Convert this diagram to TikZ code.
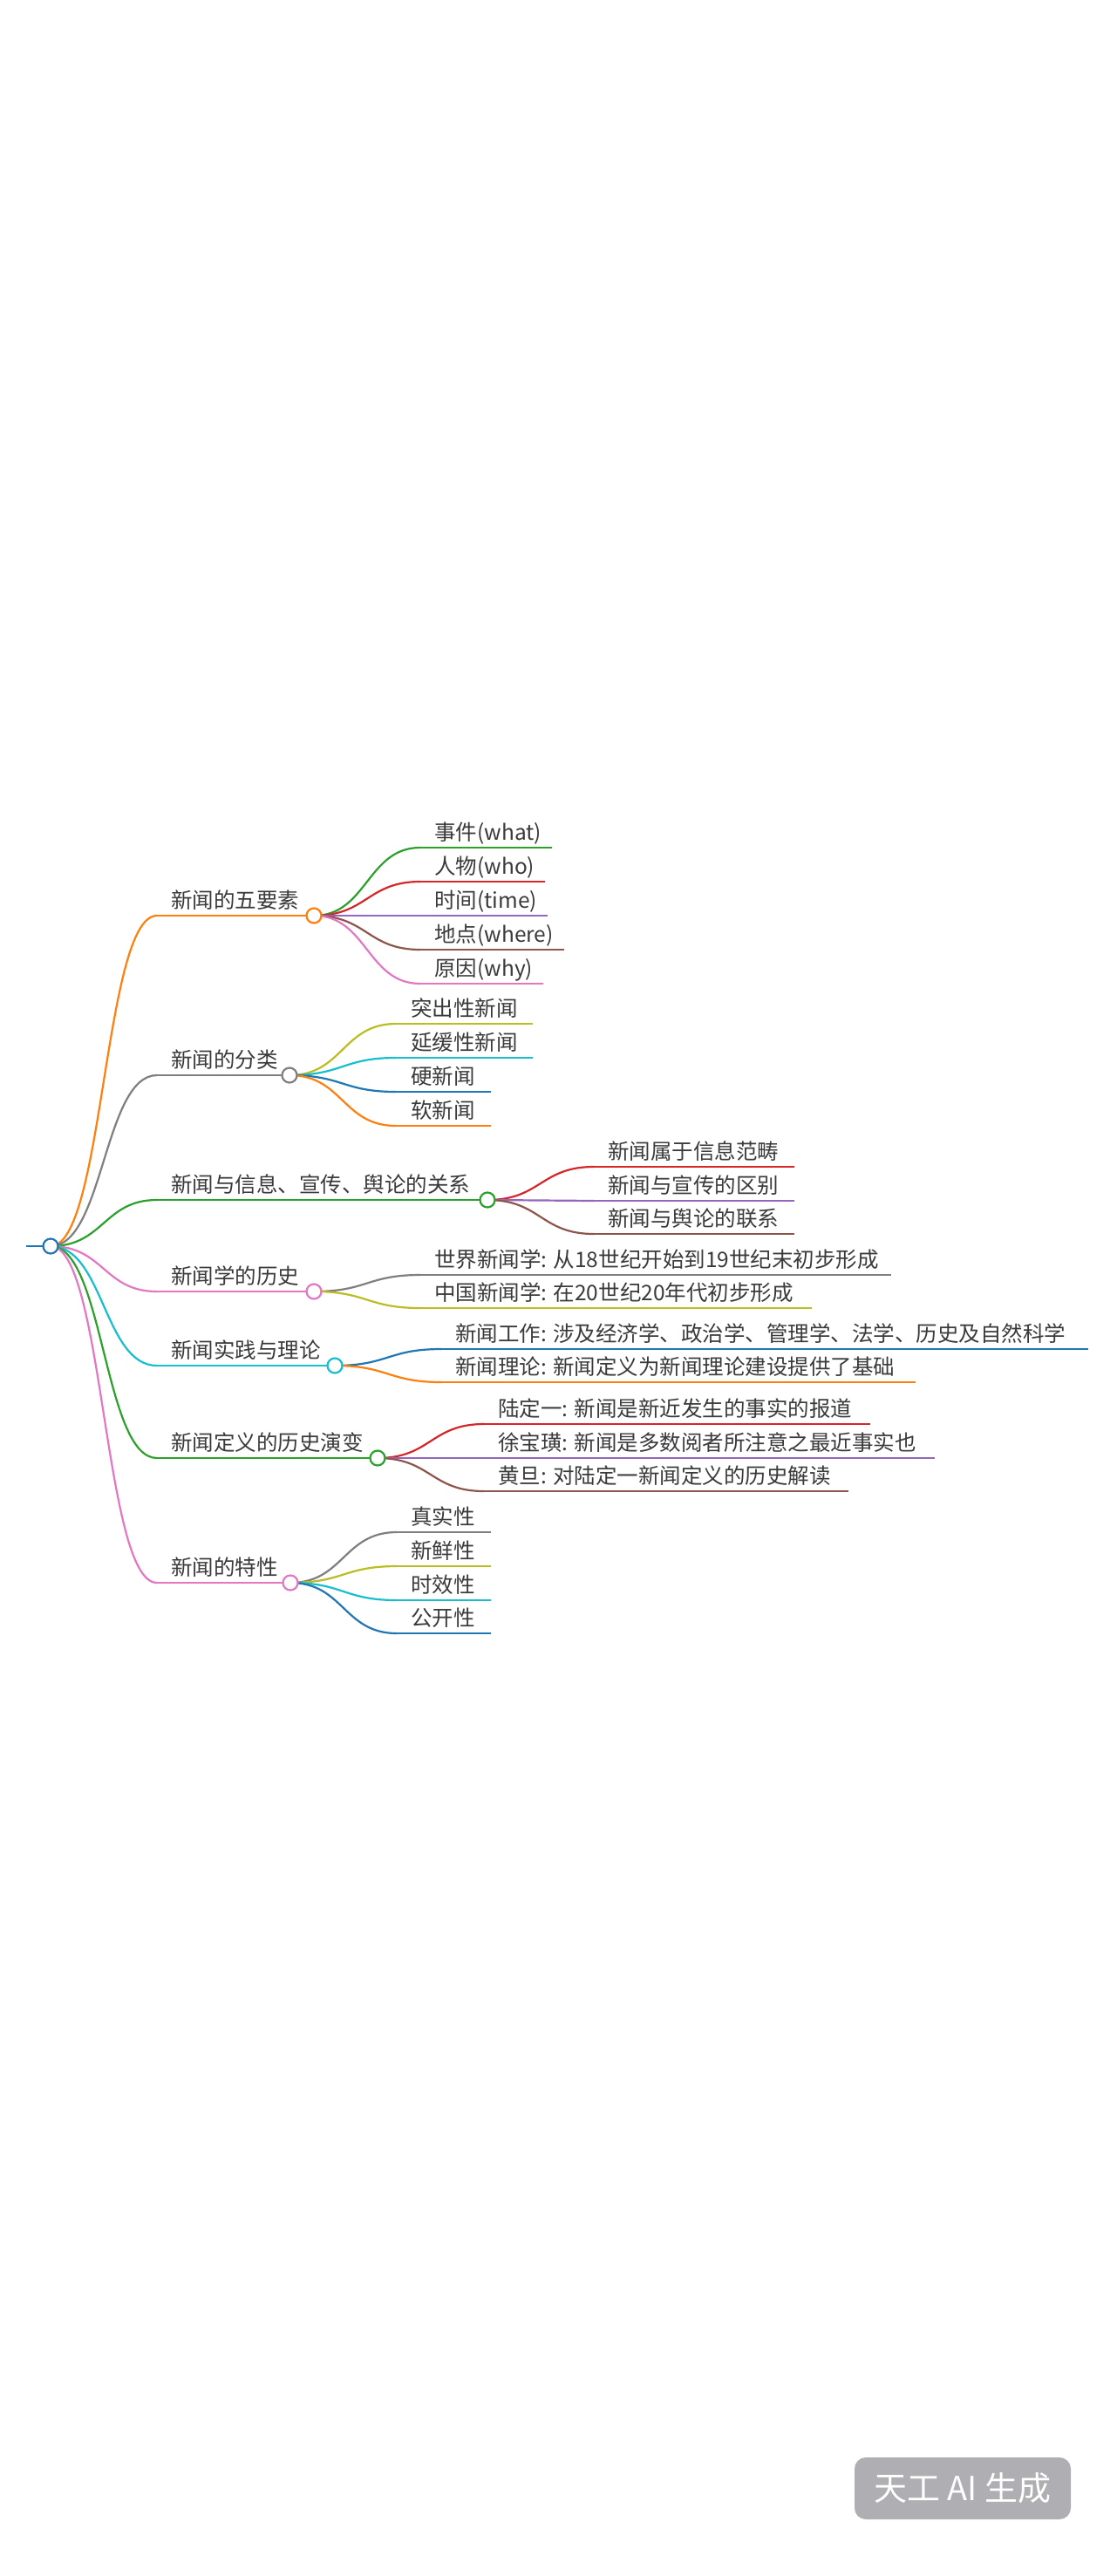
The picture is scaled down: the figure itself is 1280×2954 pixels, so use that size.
\documentclass[tikz,border=0pt]{standalone}
\usepackage{fontspec}
\setmainfont{Noto Sans CJK SC}
\usetikzlibrary{calc}
\definecolor{cblue}{HTML}{1F77B4}
\definecolor{corange}{HTML}{FF7F0E}
\definecolor{cgreen}{HTML}{2CA02C}
\definecolor{cred}{HTML}{D62728}
\definecolor{cpurple}{HTML}{9467BD}
\definecolor{cbrown}{HTML}{8C564B}
\definecolor{cpink}{HTML}{E377C2}
\definecolor{cgray}{HTML}{7F7F7F}
\definecolor{colive}{HTML}{BCBD22}
\definecolor{ccyan}{HTML}{17BECF}
\definecolor{txt}{HTML}{3A3A3A}
\definecolor{wm}{HTML}{AEAEB3}
\begin{document}
\begin{tikzpicture}[x=1pt,y=-1pt,
  link/.style={line width=2.2pt, to path={let \p1=(\tikztostart), \p2=(\tikztotarget) in .. controls ({0.5*\x1+0.5*\x2},\y1) and ({0.5*\x1+0.5*\x2},\y2) .. (\tikztotarget)}},
  uline/.style={line width=2.2pt},
  dot/.style={circle, draw=#1, fill=white, line width=2.2pt, minimum size=17pt, inner sep=0pt},
  lbl/.style={anchor=base west, inner sep=0pt, text=txt, font=\fontsize{24.5}{28}\selectfont},
]
\useasboundingbox (0,0) rectangle (1280,2954);
\fill[white] (0,0) rectangle (1280,2954);

% ---------- coordinates ----------
\coordinate (r0) at (30,1429);
\coordinate (r) at (58,1429);
% level 1 starts and circle centres
\coordinate (as) at (180,1050); \coordinate (ac) at (360,1050);
\coordinate (bs) at (180,1233); \coordinate (bc) at (332,1233);
\coordinate (cs) at (180,1376); \coordinate (cc) at (559,1376);
\coordinate (ds) at (180,1481); \coordinate (dc) at (360,1481);
\coordinate (es) at (180,1566); \coordinate (ec) at (384,1566);
\coordinate (fs) at (180,1672); \coordinate (fc) at (433,1672);
\coordinate (gs) at (180,1815); \coordinate (gc) at (333,1815);
% level 2
\coordinate (a1s) at (482,972);  \coordinate (a1e) at (633,972);
\coordinate (a2s) at (482,1011); \coordinate (a2e) at (625,1011);
\coordinate (a3s) at (482,1050); \coordinate (a3e) at (628,1050);
\coordinate (a4s) at (482,1089); \coordinate (a4e) at (647,1089);
\coordinate (a5s) at (482,1128); \coordinate (a5e) at (623,1128);
\coordinate (b1s) at (454,1174); \coordinate (b1e) at (611,1174);
\coordinate (b2s) at (454,1213); \coordinate (b2e) at (611,1213);
\coordinate (b3s) at (454,1252); \coordinate (b3e) at (563,1252);
\coordinate (b4s) at (454,1291); \coordinate (b4e) at (563,1291);
\coordinate (c1s) at (681,1338); \coordinate (c1e) at (911,1338);
\coordinate (c2s) at (681,1377); \coordinate (c2e) at (911,1377);
\coordinate (c3s) at (681,1415); \coordinate (c3e) at (911,1415);
\coordinate (d1s) at (482,1462); \coordinate (d1e) at (1022,1462);
\coordinate (d2s) at (482,1500); \coordinate (d2e) at (931,1500);
\coordinate (e1s) at (506,1547); \coordinate (e1e) at (1248,1547);
\coordinate (e2s) at (506,1585); \coordinate (e2e) at (1050,1585);
\coordinate (f1s) at (555,1633); \coordinate (f1e) at (998,1633);
\coordinate (f2s) at (555,1672); \coordinate (f2e) at (1072,1672);
\coordinate (f3s) at (555,1710); \coordinate (f3e) at (973,1710);
\coordinate (g1s) at (455,1757); \coordinate (g1e) at (563,1757);
\coordinate (g2s) at (455,1796); \coordinate (g2e) at (563,1796);
\coordinate (g3s) at (455,1835); \coordinate (g3e) at (563,1835);
\coordinate (g4s) at (455,1873); \coordinate (g4e) at (563,1873);

% ---------- level 2 links and underlines ----------
\draw[link,cgreen]  (ac) to (a1s); \draw[uline,cgreen]  (a1s) -- (a1e);
\draw[link,cred]    (ac) to (a2s); \draw[uline,cred]    (a2s) -- (a2e);
\draw[link,cpurple] (ac) to (a3s); \draw[uline,cpurple] (a3s) -- (a3e);
\draw[link,cbrown]  (ac) to (a4s); \draw[uline,cbrown]  (a4s) -- (a4e);
\draw[link,cpink]   (ac) to (a5s); \draw[uline,cpink]   (a5s) -- (a5e);

\draw[link,colive]  (bc) to (b1s); \draw[uline,colive]  (b1s) -- (b1e);
\draw[link,ccyan]   (bc) to (b2s); \draw[uline,ccyan]   (b2s) -- (b2e);
\draw[link,cblue]   (bc) to (b3s); \draw[uline,cblue]   (b3s) -- (b3e);
\draw[link,corange] (bc) to (b4s); \draw[uline,corange] (b4s) -- (b4e);

\draw[link,cred]    (cc) to (c1s); \draw[uline,cred]    (c1s) -- (c1e);
\draw[link,cpurple] (cc) to (c2s); \draw[uline,cpurple] (c2s) -- (c2e);
\draw[link,cbrown]  (cc) to (c3s); \draw[uline,cbrown]  (c3s) -- (c3e);

\draw[link,cgray]   (dc) to (d1s); \draw[uline,cgray]   (d1s) -- (d1e);
\draw[link,colive]  (dc) to (d2s); \draw[uline,colive]  (d2s) -- (d2e);

\draw[link,cblue]   (ec) to (e1s); \draw[uline,cblue]   (e1s) -- (e1e);
\draw[link,corange] (ec) to (e2s); \draw[uline,corange] (e2s) -- (e2e);

\draw[link,cred]    (fc) to (f1s); \draw[uline,cred]    (f1s) -- (f1e);
\draw[link,cpurple] (fc) to (f2s); \draw[uline,cpurple] (f2s) -- (f2e);
\draw[link,cbrown]  (fc) to (f3s); \draw[uline,cbrown]  (f3s) -- (f3e);

\draw[link,cgray]   (gc) to (g1s); \draw[uline,cgray]   (g1s) -- (g1e);
\draw[link,colive]  (gc) to (g2s); \draw[uline,colive]  (g2s) -- (g2e);
\draw[link,ccyan]   (gc) to (g3s); \draw[uline,ccyan]   (g3s) -- (g3e);
\draw[link,cblue]   (gc) to (g4s); \draw[uline,cblue]   (g4s) -- (g4e);

% ---------- level 1 links and underlines ----------
\draw[uline,cblue,line width=2.6pt] (r0) -- (r);
\draw[link,corange] (r) to (as); \draw[uline,corange] (as) -- (ac);
\draw[link,cgray]   (r) to (bs); \draw[uline,cgray]   (bs) -- (bc);
\draw[link,cgreen]  (r) to (cs); \draw[uline,cgreen]  (cs) -- (cc);
\draw[link,cpink]   (r) to (ds); \draw[uline,cpink]   (ds) -- (dc);
\draw[link,ccyan]   (r) to (es); \draw[uline,ccyan]   (es) -- (ec);
\draw[link,cgreen]  (r) to (fs); \draw[uline,cgreen]  (fs) -- (fc);
\draw[link,cpink]   (r) to (gs); \draw[uline,cpink]   (gs) -- (gc);

% ---------- circles ----------
\node[dot=cblue]   (rn) at (r)  {};
\node[dot=corange] (an) at (ac) {};
\node[dot=cgray]   (bn) at (bc) {};
\node[dot=cgreen]  (cn) at (cc) {};
\node[dot=cpink]   (dn) at (dc) {};
\node[dot=ccyan]   (en) at (ec) {};
\node[dot=cgreen]  (fn) at (fc) {};
\node[dot=cpink]   (gn) at (gc) {};

% ---------- level 1 labels ----------
\node[lbl] (ta) at (196,1041) {新闻的五要素};
\node[lbl] (tb) at (196,1224) {新闻的分类};
\node[lbl] (tc) at (196,1367) {新闻与信息、宣传、舆论的关系};
\node[lbl] (td) at (196,1472) {新闻学的历史};
\node[lbl] (te) at (196,1557) {新闻实践与理论};
\node[lbl] (tf) at (196,1663) {新闻定义的历史演变};
\node[lbl] (tg) at (196,1806) {新闻的特性};

% ---------- level 2 labels ----------
\node[lbl] (ta1) at (498,963)  {事件(what)};
\node[lbl] (ta2) at (498,1002) {人物(who)};
\node[lbl] (ta3) at (498,1041) {时间(time)};
\node[lbl] (ta4) at (498,1080) {地点(where)};
\node[lbl] (ta5) at (498,1119) {原因(why)};

\node[lbl] (tb1) at (471,1165) {突出性新闻};
\node[lbl] (tb2) at (471,1204) {延缓性新闻};
\node[lbl] (tb3) at (471,1243) {硬新闻};
\node[lbl] (tb4) at (471,1282) {软新闻};

\node[lbl] (tc1) at (697,1329) {新闻属于信息范畴};
\node[lbl] (tc2) at (697,1368) {新闻与宣传的区别};
\node[lbl] (tc3) at (697,1406) {新闻与舆论的联系};

\node[lbl] (td1) at (498,1453) {世界新闻学: 从18世纪开始到19世纪末初步形成};
\node[lbl] (td2) at (498,1491) {中国新闻学: 在20世纪20年代初步形成};

\node[lbl] (te1) at (522,1538) {新闻工作: 涉及经济学、政治学、管理学、法学、历史及自然科学};
\node[lbl] (te2) at (522,1576) {新闻理论: 新闻定义为新闻理论建设提供了基础};

\node[lbl] (tf1) at (571,1624) {陆定一: 新闻是新近发生的事实的报道};
\node[lbl] (tf2) at (571,1663) {徐宝璜: 新闻是多数阅者所注意之最近事实也};
\node[lbl] (tf3) at (571,1701) {黄旦: 对陆定一新闻定义的历史解读};

\node[lbl] (tg1) at (471,1748) {真实性};
\node[lbl] (tg2) at (471,1787) {新鲜性};
\node[lbl] (tg3) at (471,1826) {时效性};
\node[lbl] (tg4) at (471,1864) {公开性};

% ---------- watermark ----------
\node[fill=wm, rounded corners=13pt, text=white, minimum width=248pt, minimum height=71pt,
      inner sep=0pt, font=\fontsize{38}{40}\selectfont] (wmk) at (1104,2853.5) {天工 AI 生成};
\end{tikzpicture}
\end{document}
